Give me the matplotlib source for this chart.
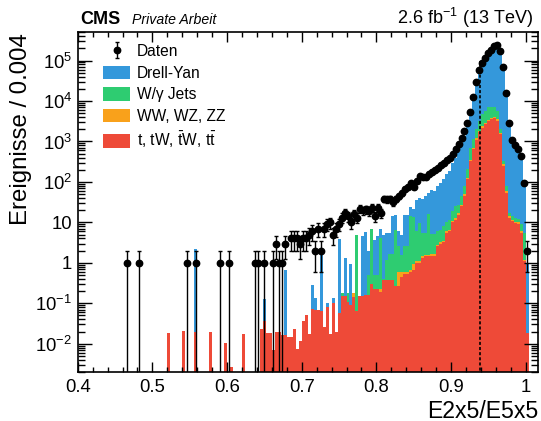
import numpy as np
import matplotlib
matplotlib.use("Agg")
import matplotlib.pyplot as plt
from matplotlib.patches import Patch
from matplotlib.ticker import MultipleLocator, LogLocator, NullFormatter, FixedLocator, FixedFormatter

plt.rcParams['font.family'] = ['Liberation Sans', 'DejaVu Sans']
plt.rcParams['mathtext.fontset'] = 'custom'
plt.rcParams['mathtext.rm'] = 'Liberation Sans'
plt.rcParams['mathtext.it'] = 'Liberation Sans:italic'
plt.rcParams['mathtext.bf'] = 'Liberation Sans:bold'
plt.rcParams['lines.scale_dashes'] = False

# ---------------- data ----------------
bin_low = 0.4
bin_width = 0.004
n_bins = 151
cut_value = 0.939
cut_height = 1e5

data_counts = [
    0, 0, 0, 0, 0, 0, 0, 0, 0, 0,
    0, 0, 0, 0, 0, 0, 1, 0, 0, 0,
    1, 0, 0, 0, 0, 0, 0, 0, 0, 0,
    0, 0, 0, 0, 0, 0, 1, 0, 0, 1,
    0, 0, 0, 0, 0, 0, 0, 1, 0, 0,
    1, 0, 0, 0, 0, 0, 0, 0, 0, 1,
    1, 0, 1, 0, 0, 1, 3, 1, 1, 3,
    0, 4, 4, 4, 3, 4, 4, 5, 6, 2,
    7, 2, 7, 9, 10, 5, 7, 9, 13, 17,
    14, 10, 16, 13, 22, 20, 21, 19, 23, 14,
    23, 17, 38, 37, 38, 31, 38, 44, 53, 68,
    75, 92, 75, 103, 140, 132, 132, 155, 175, 200,
    225, 260, 300, 345, 386, 488, 645, 860, 1200, 1790,
    2830, 5500, 12500, 29400, 57000, 89000, 114000, 150000, 182000, 228000,
    248000, 176000, 70000, 15700, 2830, 1100, 810, 645, 440, 96,
    2,
]

top_mc = [
    0, 0, 0, 0, 0, 0, 0, 0, 0, 0,
    0, 0, 0, 0, 0, 0, 0, 0, 0, 0,
    0, 0, 0, 0, 0, 0, 0, 0, 0, 0,
    0.018, 0, 0, 0, 0, 0.021, 0, 0, 0, 0.02,
    0, 0, 0, 0, 0.02, 0, 0, 0, 0, 0.0105,
    0, 0.0026, 0, 0, 0, 0.017, 0, 0, 0, 0,
    0, 0.023, 0.036, 0.018, 0.018, 0.007, 0.02, 0.02, 0.016, 0.016,
    0.015, 0.015, 0.023, 0.0075, 0.012, 0.036, 0.051, 0.017, 0.072, 0.07,
    0.068, 0.065, 0.026, 0.08, 0.0175, 0.1, 0.02, 0.056, 0.15, 0.15,
    0.105, 0.093, 0.14, 0.066, 0.15, 0.15, 0.16, 0.16, 0.3, 0.23,
    0.23, 0.19, 0.38, 0.38, 0.38, 0.38, 0.27, 0.27, 0.44, 0.54,
    0.54, 0.6, 0.67, 1.0, 1.0, 1.3, 1.44, 1.44, 1.5, 1.5,
    2.6, 3.0, 3.2, 5.5, 6, 10, 11.7, 15.6, 25, 45,
    115, 330, 650, 1100, 1700, 2200, 2700, 3200, 3500, 3700,
    3300, 1500, 250, 54, 13, 10.6, 9.5, 9.3, 5.5, 1.1,
    0.018,
]

diboson_mc = [0] * 90 + [
    0, 0, 0.036, 0, 0, 0, 0, 0, 0, 0,
    0, 0.04, 0, 0, 0, 0, 0, 0.33, 0.16, 0.06,
    0.05, 0.05, 0.28, 0.1, 0.1, 0.15, 0.15, 0.12, 0.12, 0.12,
    0.2, 0.25, 0.3, 0.5, 0.5, 0.8, 1.0, 1.3, 2, 4,
    9, 25, 50, 90, 140, 180, 220, 260, 290, 300,
    270, 120, 20, 5, 1.1, 0.9, 0.8, 0.8, 0.5, 0.1,
    0,
]

wjets_mc = [0] * 88 + [
    0.026, 0,
    0.07, 0, 0, 4.93, 0, 0, 0, 0.34, 6.7, 0.27,
    0.27, 3.77, 0.02, 0.82, 1.32, 1.32, 6.3, 2.0, 1.0, 2.0,
    2.0, 14, 13, 4.9, 8.7, 4, 4, 15, 3.4, 3.4,
    3.2, 3.3, 4.5, 4, 5.2, 8.2, 12.3, 10, 18, 31,
    81, 345, 450, 860, 1460, 2420, 2880, 3540, 3210, 3000,
    2230, 380, 60, 21, 3, 2.5, 2.7, 1.9, 3, 4.3,
    0,
]

drellyan_mc = [
    0, 0, 0, 0, 0, 0, 0, 0, 0, 0,
    0, 0, 0, 0, 0, 0, 0, 0, 0, 0,
    0, 0, 0, 0, 0, 0, 0, 0, 0, 0,
    0, 0, 0, 0, 0, 0, 0, 0, 0, 2.18,
    0, 0, 0, 0, 0, 0, 0, 0, 0, 0,
    0, 0, 0, 0, 0, 0, 0, 0, 0, 0,
    0, 0, 0.089, 0, 0, 0, 0, 0, 0, 0.65,
    0, 0, 0, 0, 0, 0, 0, 0, 0.21, 0.067,
    0, 1.67, 0, 0.02, 0, 0.037, 0, 3.84, 0, 1.2,
    0, 0.84, 0, 0, 0, 4.35, 5.5, 1.5, 0, 3.2,
    4.0, 3.0, 4.6, 4.3, 3.8, 12.3, 8.4, 3.4, 3.4, 12.4,
    12.4, 10, 8, 29, 30, 32, 39, 38, 57, 55,
    74, 89, 112, 145, 175, 281, 355, 513, 825, 1310,
    2245, 4600, 10150, 26000, 56700, 100000, 129000, 163000, 198000, 234000,
    240000, 158000, 59700, 13900, 2580, 1086, 687, 548, 391, 104.5,
    1.0,
]

legend_labels = ["Daten", "Drell-Yan", "W/\u03b3 Jets", "WW, WZ, ZZ",
                 r"t, tW, $\bar{\mathrm{t}}$W, t$\bar{\mathrm{t}}$"]
colors = {"dy": "#3498db", "wj": "#2ecc71", "vv": "#f9a11b", "top": "#ee4a38"}

# ---------------- figure ----------------
W, H = 541, 421
fig = plt.figure(figsize=(W / 100, H / 100), dpi=100)
ax_l, ax_r, ax_t, ax_b = 77.7, 538.0, 32.3, 372.0
ax = fig.add_axes([ax_l / W, 1 - ax_b / H, (ax_r - ax_l) / W, (ax_b - ax_t) / H])

edges = bin_low + bin_width * np.arange(n_bins + 1)
centers = 0.5 * (edges[:-1] + edges[1:])

top = np.array(top_mc, float)
vv = np.array(diboson_mc, float)
wj = np.array(wjets_mc, float)
dy = np.array(drellyan_mc, float)
c_top = top
c_vv = c_top + vv
c_wj = c_vv + wj
c_dy = c_wj + dy

floor = 1e-6
for vals, col in [(c_dy, colors["dy"]), (c_wj, colors["wj"]),
                  (c_vv, colors["vv"]), (c_top, colors["top"])]:
    ax.stairs(np.where(vals > 0, vals, floor), edges, baseline=floor,
              fill=True, color=col, lw=0)

ax.vlines(cut_value, floor, cut_height, colors="k", linestyles=(0, (2.2, 1.5)), lw=1.2, zorder=3)

n = np.array(data_counts, float)
m = n > 0
err = np.sqrt(n[m])
lo = np.minimum(err, n[m] - floor)
eb = ax.errorbar(centers[m], n[m], yerr=[lo, err], fmt="o", color="k", ms=4.6,
                 elinewidth=1.0, capsize=1.6, capthick=1.0, zorder=4)

ax.set_yscale("log")
ax.set_xlim(0.4, 0.4 + (ax_r - ax_l) / 746.7)
ax.set_ylim(2e-3, 5e5)

xt = [0.4, 0.5, 0.6, 0.7, 0.8, 0.9, 1.0]
ax.set_xticks(xt)
ax.set_xticklabels(["0.4", "0.5", "0.6", "0.7", "0.8", "0.9", "1"])
ax.xaxis.set_minor_locator(MultipleLocator(0.02))

yt = [1e-2, 1e-1, 1, 10, 1e2, 1e3, 1e4, 1e5]
ax.yaxis.set_major_locator(FixedLocator(yt))
ax.yaxis.set_major_formatter(FixedFormatter(
    [r"$10^{-2}$", r"$10^{-1}$", "1", "10", r"$10^{2}$", r"$10^{3}$", r"$10^{4}$", r"$10^{5}$"]))
ax.yaxis.set_minor_locator(LogLocator(base=10, subs=np.arange(2, 10), numticks=50))
ax.yaxis.set_minor_formatter(NullFormatter())

ax.tick_params(which="both", direction="in", top=True, right=True, labelsize=13.3, width=1.0)
ax.tick_params(axis="x", which="major", length=7.4, pad=5)
ax.tick_params(axis="x", which="minor", length=3.6)
ax.tick_params(axis="y", which="major", length=10, pad=4)
ax.tick_params(axis="y", which="minor", length=5)
for s in ax.spines.values():
    s.set_linewidth(1.2)

# texts
fig.text(538 / W, 1 - 417.5 / H, "E2x5/E5x5", ha="right", va="baseline", fontsize=16.6)
fig.text(21.5 / W, 1 - 33 / H, "Ereignisse / 0.004", ha="center", va="top",
         rotation=90, fontsize=17.3)
fig.text(80 / W, 1 - 24 / H, "CMS", ha="left", va="baseline", fontsize=13, fontweight="bold")
fig.text(131.5 / W, 1 - 24 / H, "Private Arbeit", ha="left", va="baseline",
         fontsize=10.2, style="italic")
fig.text(533 / W, 1 - 24 / H, r"2.6 fb$^{-1}$ (13 TeV)", ha="right", va="baseline",
         fontsize=13)

handles = [eb,
           Patch(color=colors["dy"], lw=0),
           Patch(color=colors["wj"], lw=0),
           Patch(color=colors["vv"], lw=0),
           Patch(color=colors["top"], lw=0)]
leg = ax.legend(handles, legend_labels, loc="upper left",
                bbox_to_anchor=(103 / W, 1 - 44 / H), bbox_transform=fig.transFigure,
                frameon=False, fontsize=11.2, handlelength=1.75, handleheight=0.95,
                handletextpad=0.45, labelspacing=0.42, borderpad=0, borderaxespad=0)

fig.savefig("out.png", dpi=100)
